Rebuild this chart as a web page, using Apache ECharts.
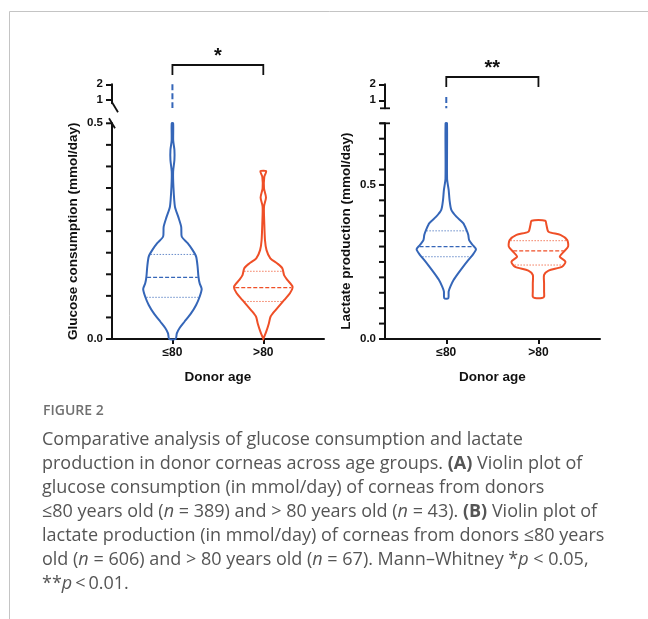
<!DOCTYPE html>
<html><head><meta charset="utf-8">
<script src="https://cdn.jsdelivr.net/npm/echarts@6.0.0/dist/echarts.min.js"></script>
<style>html,body{margin:0;padding:0;background:#fff}#c{width:648px;height:619px}</style>
</head><body><div id="c"></div>
<script>
// ---------- data ----------
const categories = ['≤80', '>80'];
// violin outlines: [value, relative density (0..1)]
const glucoseLE80 = [[0,0.11],[0.013,0.15],[0.025,0.24],[0.040,0.41],[0.060,0.64],[0.079,0.81],[0.098,0.93],[0.116,1.0],[0.129,0.93],[0.144,0.89],[0.168,0.86],[0.191,0.81],[0.206,0.69],[0.222,0.52],[0.237,0.32],[0.260,0.30],[0.283,0.20],[0.307,0.085],[0.353,0.034],[0.388,0.024],[0.415,0.068],[0.438,0.068],[0.46,0.027],[0.5,0.024]];
const glucoseGT80 = [[0,0.0],[0.017,0.10],[0.036,0.19],[0.052,0.25],[0.067,0.42],[0.090,0.71],[0.106,0.91],[0.121,1.0],[0.137,0.82],[0.148,0.71],[0.164,0.65],[0.175,0.48],[0.187,0.24],[0.206,0.11],[0.229,0.058],[0.268,0.034],[0.307,0.024],[0.328,0.092],[0.349,0.024],[0.376,0.034],[0.389,0.10]];
const lactateLE80 = [[0.132,0.068],[0.154,0.08],[0.170,0.137],[0.192,0.25],[0.213,0.40],[0.235,0.57],[0.256,0.74],[0.273,0.89],[0.291,1.0],[0.305,0.89],[0.321,0.77],[0.338,0.74],[0.354,0.68],[0.376,0.57],[0.397,0.34],[0.419,0.17],[0.451,0.11],[0.484,0.08],[0.52,0.027],[0.7,0.024]];
const lactateGT80 = [[0.133,0.12],[0.137,0.19],[0.154,0.19],[0.181,0.19],[0.208,0.19],[0.222,0.34],[0.235,0.80],[0.251,0.91],[0.267,0.72],[0.283,0.85],[0.300,1.0],[0.321,0.97],[0.338,0.74],[0.348,0.34],[0.370,0.27],[0.384,0.23]];
// quartiles [Q1, median, Q3]
const glucoseQuartLE80 = [0.0966, 0.143, 0.196];
const glucoseQuartGT80 = [0.087, 0.119, 0.157];
const lactateQuartLE80 = [0.267, 0.300, 0.351];
const lactateQuartGT80 = [0.240, 0.286, 0.319];
// outlying tail shown on the upper (broken) axis segment: [low, high]
const glucoseTailLE80 = [0.5, 2.0];
const lactateTailLE80 = [0.5, 1.2];
// axis ranges / ticks
const glucoseLowerMax = 0.5, lactateLowerMax = 0.7;
const lowerTickStep = 0.05;
const upperTicks = [1, 2];
const lowerLabels = [0, 0.5];
const significance = ['*', '**'];

// ---------- style ----------
const BLUE = '#3566b8', RED = '#ef4f27';
const HW = 0.322; // max half width in category units
const FONT = 'Liberation Sans, Arial, sans-serif';
const XMIN = -0.665, XMAX = 1.668;
const TICK = 6;

function interp(profile, v) {
  for (let i = 0; i < profile.length - 1; i++) {
    const a = profile[i], b = profile[i + 1];
    if (v >= a[0] && v <= b[0]) return a[1] + (b[1] - a[1]) * (v - a[0]) / (b[0] - a[0]);
  }
  return 0;
}
function violin(gi, cat, profile, quart, color) {
  return {
    type: 'custom', xAxisIndex: gi, yAxisIndex: gi, clip: false, silent: true,
    data: [[cat]],
    renderItem: function (params, api) {
      const left = profile.map(p => api.coord([cat - p[1] * HW, p[0]]));
      const right = profile.slice().reverse().map(p => api.coord([cat + p[1] * HW, p[0]]));
      const children = [{ type: 'polygon', shape: { points: left.concat(right), smooth: 0.25 },
        style: { fill: 'none', stroke: color, lineWidth: 2 } }];
      quart.forEach((q, i) => {
        const d = interp(profile, q) * 0.97;
        const a = api.coord([cat - d * HW, q]), b = api.coord([cat + d * HW, q]);
        children.push({ type: 'line', shape: { x1: a[0], y1: a[1], x2: b[0], y2: b[1] },
          style: { stroke: color, lineWidth: i === 1 ? 1.2 : 1, lineDash: i === 1 ? [4, 2] : [1.5, 1.5], opacity: i === 1 ? 1 : 0.75 } });
      });
      return { type: 'group', children };
    }
  };
}
function tail(gi, cat, t, color) {
  return {
    type: 'custom', xAxisIndex: gi, yAxisIndex: gi, clip: false, silent: true,
    data: [[cat]],
    renderItem: function (params, api) {
      const a = api.coord([cat, t[1]]), b = api.coord([cat, t[0]]);
      return { type: 'line', shape: { x1: a[0], y1: a[1], x2: b[0], y2: b[1] },
        style: { stroke: color, lineWidth: 2, lineDash: [6, 3] } };
    }
  };
}

const axisLineStyle = { color: '#111', width: 2 };
const labelStyle = { color: '#111', fontFamily: FONT, fontWeight: 'bold', fontSize: 11.5, margin: 9 };
function xAxis(gi, show) {
  return {
    type: 'value', gridIndex: gi, min: XMIN, max: XMAX,
    show: show,
    axisLine: { show: true, onZero: false, lineStyle: axisLineStyle },
    axisTick: { show: true, length: 5, lineStyle: { color: '#111', width: 2 }, customValues: [0, 1] },
    axisLabel: { customValues: [0, 1], formatter: v => categories[Math.round(v)], color: '#111',
      fontFamily: FONT, fontWeight: 'bold', fontSize: 12, margin: 8 },
    splitLine: { show: false },
    name: show ? 'Donor age' : '', nameLocation: 'middle', nameGap: 31,
    nameTextStyle: { color: '#111', fontFamily: FONT, fontWeight: 'bold', fontSize: 13.5 }
  };
}
function yAxisLower(gi, max, name) {
  return {
    type: 'value', gridIndex: gi, min: 0, max: max, interval: lowerTickStep,
    axisLine: { show: true, onZero: false, lineStyle: axisLineStyle },
    axisTick: { show: false },
    axisLabel: Object.assign({ showMaxLabel: true, showMinLabel: true,
      formatter: v => lowerLabels.some(l => Math.abs(l - v) < 1e-6) ? v.toFixed(1) : '' }, labelStyle),
    splitLine: { show: false },
    name: name, nameLocation: 'middle', nameRotate: 90, nameGap: 32,
    nameTextStyle: { color: '#111', fontFamily: FONT, fontWeight: 'bold', fontSize: 13.5 }
  };
}
function yAxisUpper(gi, min) {
  return {
    type: 'value', gridIndex: gi, min: min, max: 2,
    axisLine: { show: true, onZero: false, lineStyle: axisLineStyle },
    axisTick: { show: true, length: TICK, lineStyle: { color: '#111', width: 2 }, customValues: upperTicks },
    axisLabel: Object.assign({ customValues: upperTicks, formatter: v => String(v) }, labelStyle),
    splitLine: { show: false }
  };
}

const chart = echarts.init(document.getElementById('c'), null, { renderer: 'canvas' });
chart.setOption({
  animation: false,
  backgroundColor: '#fff',
  grid: [
    { left: 112, top: 123.3, width: 212, height: 215.7 },
    { left: 112, top: 84.3, width: 212, height: 19 },
    { left: 385, top: 123.3, width: 215, height: 215.7 },
    { left: 385, top: 84.3, width: 215, height: 24 }
  ],
  xAxis: [xAxis(0, true), xAxis(1, false), xAxis(2, true), xAxis(3, false)],
  yAxis: [
    yAxisLower(0, glucoseLowerMax, 'Glucose consumption (mmol/day)'),
    yAxisUpper(1, 0.8),
    yAxisLower(2, lactateLowerMax, 'Lactate production (mmol/day)'),
    yAxisUpper(3, 0.5)
  ],
  series: [
    violin(0, 0, glucoseLE80, glucoseQuartLE80, BLUE),
    violin(0, 1, glucoseGT80, glucoseQuartGT80, RED),
    tail(1, 0, glucoseTailLE80, BLUE),
    violin(2, 0, lactateLE80, lactateQuartLE80, BLUE),
    violin(2, 1, lactateGT80, lactateQuartGT80, RED),
    tail(3, 0, lactateTailLE80, BLUE)
  ]
});

// ---------- annotations ----------
function px(gi, pt) { return chart.convertToPixel({ gridIndex: gi }, pt); }
const g = [];
// frame
g.push({ type: 'rect', shape: { x: 9.5, y: 11.5, width: 800, height: 800 }, style: { fill: 'none', stroke: '#c4c4c4', lineWidth: 1 }, z: 0 });
// ticks on lower y axes (every 0.05)
[[0, glucoseLowerMax], [2, lactateLowerMax]].forEach(([gi, max]) => {
  const n = Math.round(max / lowerTickStep);
  for (let k = 0; k <= n; k++) {
    const p = px(gi, [XMIN, k * lowerTickStep]);
    g.push({ type: 'line', z: 10, shape: { x1: p[0] - TICK, y1: p[1], x2: p[0], y2: p[1] }, style: { stroke: '#111', lineWidth: 2 } });
  }
});
// panel A break marks (slashes)
const aUp = px(1, [XMIN, 0.8]), aLo = px(0, [XMIN, glucoseLowerMax]);
g.push({ type: 'line', shape: { x1: aUp[0], y1: aUp[1] - 1, x2: aUp[0] + 6, y2: aUp[1] + 9 }, style: { stroke: '#111', lineWidth: 1.8 } });
g.push({ type: 'line', shape: { x1: aLo[0] - 3, y1: aLo[1] - 5, x2: aLo[0] + 3, y2: aLo[1] + 5 }, style: { stroke: '#111', lineWidth: 1.8 } });
// panel B break caps
const bUp = px(3, [XMIN, 0.5]), bLo = px(2, [XMIN, lactateLowerMax]);
[bUp, bLo].forEach(p => g.push({ type: 'line', shape: { x1: p[0] - 5, y1: p[1], x2: p[0] + 5, y2: p[1] }, style: { stroke: '#111', lineWidth: 1.8 } }));
// significance brackets
[[1, 65, 0], [3, 77, 1]].forEach(([gi, y, k]) => {
  const x0 = px(gi, [0, 2])[0], x1 = px(gi, [1, 2])[0];
  g.push({ type: 'polyline', shape: { points: [[x0, y + 10], [x0, y], [x1, y], [x1, y + 10]] }, style: { fill: 'none', stroke: '#111', lineWidth: 1.8 } });
  g.push({ type: 'text', x: (x0 + x1) / 2, y: y + 1, style: { text: significance[k], font: 'bold 20px ' + FONT, fill: '#111', align: 'center', verticalAlign: 'bottom' } });
});
// caption
const CAPFONT = '"Open Sans", "Noto Sans", sans-serif';
const CS = 18;
g.push({ type: 'text', x: 43, y: 411, style: { text: 'FIGURE 2', font: '600 14px ' + CAPFONT, fill: '#707070', verticalAlign: 'middle' } });
const capLines = [
  'Comparative analysis of glucose consumption and lactate',
  'production in donor corneas across age groups. {b|(A)} Violin plot of',
  'glucose consumption (in mmol/day) of corneas from donors',
  '≤80 years old ({i|n} = 389) and > 80 years old ({i|n} = 43). {b|(B)} Violin plot of',
  'lactate production (in mmol/day) of corneas from donors ≤80 years',
  'old ({i|n} = 606) and > 80 years old ({i|n} = 67). Mann–Whitney *{i|p} < 0.05,',
  '**{i|p}\u2009<\u20090.01.'
];
capLines.forEach((t, i) => {
  g.push({ type: 'text', x: 42, y: 440 + i * 24, style: {
    text: t, font: CS + 'px ' + CAPFONT, fill: '#555', verticalAlign: 'middle',
    rich: { b: { font: 'bold ' + CS + 'px ' + CAPFONT, fill: '#555' }, i: { font: 'italic ' + CS + 'px ' + CAPFONT, fill: '#555' } }
  } });
});
chart.setOption({ graphic: { elements: g } });
</script>
</body></html>
